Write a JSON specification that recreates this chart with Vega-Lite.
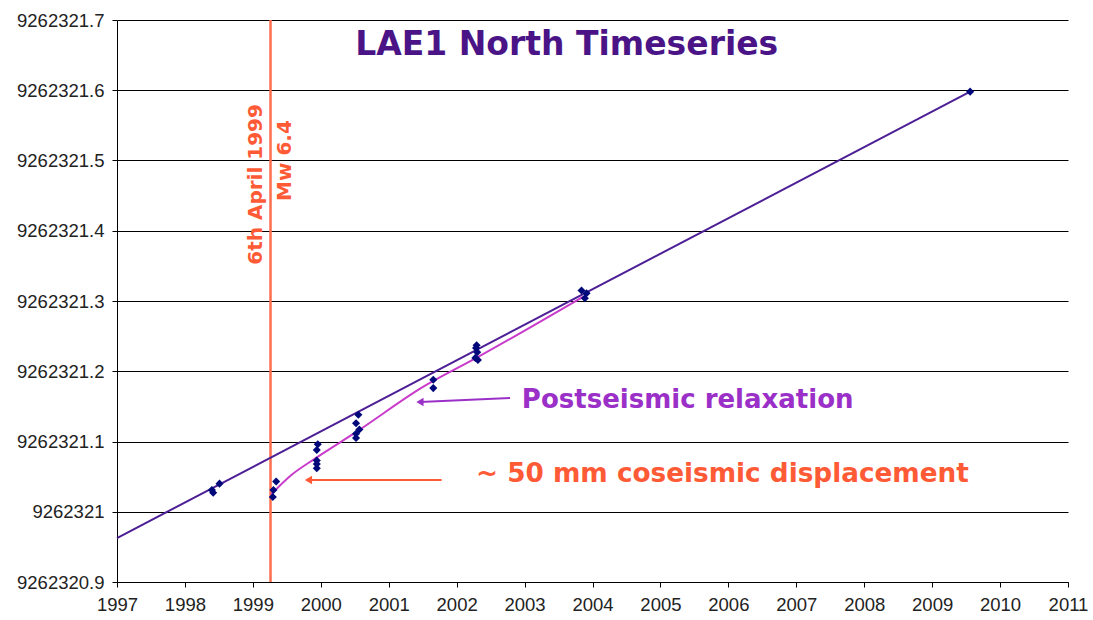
{
  "$schema": "https://vega.github.io/schema/vega-lite/v6.json",
  "width": 951,
  "height": 562,
  "autosize": {"type": "none"},
  "padding": {"left": 117, "top": 20, "right": 25, "bottom": 38},
  "background": "white",
  "config": {
    "view": {"stroke": null}
  },
  "datasets": {
    "obs": [
      {"year": 1998.397, "north": 9262321.031},
      {"year": 1998.416, "north": 9262321.027},
      {"year": 1998.509, "north": 9262321.040},
      {"year": 1999.343, "north": 9262321.043},
      {"year": 1999.303, "north": 9262321.031},
      {"year": 1999.294, "north": 9262321.021},
      {"year": 1999.956, "north": 9262321.096},
      {"year": 1999.941, "north": 9262321.088},
      {"year": 1999.941, "north": 9262321.073},
      {"year": 1999.941, "north": 9262321.068},
      {"year": 1999.941, "north": 9262321.062},
      {"year": 2000.553, "north": 9262321.138},
      {"year": 2000.519, "north": 9262321.126},
      {"year": 2000.568, "north": 9262321.117},
      {"year": 2000.519, "north": 9262321.111},
      {"year": 2000.519, "north": 9262321.105},
      {"year": 2001.656, "north": 9262321.188},
      {"year": 2001.656, "north": 9262321.176},
      {"year": 2002.294, "north": 9262321.237},
      {"year": 2002.285, "north": 9262321.233},
      {"year": 2002.303, "north": 9262321.227},
      {"year": 2002.313, "north": 9262321.216},
      {"year": 2002.275, "north": 9262321.219},
      {"year": 2003.838, "north": 9262321.315},
      {"year": 2003.912, "north": 9262321.311},
      {"year": 2003.887, "north": 9262321.304},
      {"year": 2009.559, "north": 9262321.598}
    ],
    "trend": [
      {"year": 1997.0, "north": 9262320.9626},
      {"year": 2009.56, "north": 9262321.598}
    ],
    "relax": [
      {"year": 1999.27, "north": 9262321.025},
      {"year": 1999.55, "north": 9262321.051},
      {"year": 1999.92, "north": 9262321.076},
      {"year": 2000.53, "north": 9262321.114},
      {"year": 2001.51, "north": 9262321.178},
      {"year": 2002.29, "north": 9262321.219},
      {"year": 2003.86, "north": 9262321.306}
    ],
    "quake": [{"year": 1999.26}],
    "arrows": [
      {"x1": 2002.786, "y1": 9262321.162, "x2": 2001.46, "y2": 9262321.1562, "kind": "post"},
      {"x1": 2001.779, "y1": 9262321.0452, "x2": 1999.818, "y2": 9262321.0452, "kind": "co"}
    ]
  },
  "layer": [
    {
      "data": {"name": "quake"},
      "mark": {"type": "rule", "color": "#FF6E4E", "strokeWidth": 2.5},
      "encoding": {
        "x": {"field": "year", "type": "quantitative", "scale": {"domain": [1997, 2011], "nice": false, "zero": false},
          "axis": {"values": [1997,1998,1999,2000,2001,2002,2003,2004,2005,2006,2007,2008,2009,2010,2011], "format": "d", "grid": false, "tickSize": 5, "labelPadding": 8, "labelFlush": false, "labelFont": "Liberation Sans", "labelFontSize": 18.5, "labelColor": "#222222", "domainColor": "#000000", "tickColor": "#000000", "title": null}}
      }
    },
    {
      "data": {"name": "trend"},
      "mark": {"type": "line", "color": "#4D1F96", "strokeWidth": 2},
      "encoding": {
        "x": {"field": "year", "type": "quantitative"},
        "y": {"field": "north", "type": "quantitative", "scale": {"domain": [9262320.9, 9262321.7], "nice": false, "zero": false},
          "axis": {"values": [9262320.9, 9262321.0, 9262321.1, 9262321.2, 9262321.3, 9262321.4, 9262321.5, 9262321.6, 9262321.7], "format": "~f", "grid": true, "gridColor": "#000000", "gridOpacity": 1, "gridWidth": 1, "tickSize": 5, "labelPadding": 8, "labelFlush": false, "labelFont": "Liberation Sans", "labelFontSize": 18.5, "labelColor": "#222222", "domainColor": "#000000", "tickColor": "#000000", "title": null}}
      }
    },
    {
      "data": {"name": "relax"},
      "mark": {"type": "line", "color": "#C93BCB", "strokeWidth": 2, "interpolate": "monotone"},
      "encoding": {
        "x": {"field": "year", "type": "quantitative"},
        "y": {"field": "north", "type": "quantitative"}
      }
    },
    {
      "data": {"name": "obs"},
      "mark": {"type": "point", "shape": "diamond", "filled": true, "color": "#00087A", "size": 65, "opacity": 1},
      "encoding": {
        "x": {"field": "year", "type": "quantitative"},
        "y": {"field": "north", "type": "quantitative"}
      }
    },
    {
      "data": {"name": "arrows"},
      "mark": {"type": "rule", "strokeWidth": 2},
      "encoding": {
        "x": {"field": "x1", "type": "quantitative"},
        "y": {"field": "y1", "type": "quantitative"},
        "x2": {"field": "x2"},
        "y2": {"field": "y2"},
        "color": {"field": "kind", "type": "nominal", "scale": {"domain": ["post", "co"], "range": ["#9B30C8", "#FF5A36"]}, "legend": null}
      }
    },
    {
      "data": {"name": "arrows"},
      "mark": {"type": "point", "shape": "triangle-left", "filled": true, "size": 70, "opacity": 1},
      "encoding": {
        "x": {"field": "x2", "type": "quantitative"},
        "y": {"field": "y2", "type": "quantitative"},
        "color": {"field": "kind", "type": "nominal", "scale": {"domain": ["post", "co"], "range": ["#9B30C8", "#FF5A36"]}, "legend": null}
      }
    },
    {
      "data": {"values": [{"year": 2003.62, "north": 9262321.664, "label": "LAE1 North Timeseries"}]},
      "mark": {"type": "text", "font": "DejaVu Sans", "fontWeight": "bold", "fontSize": 33, "color": "#4A1487", "align": "center", "baseline": "middle"},
      "encoding": {
        "x": {"field": "year", "type": "quantitative"},
        "y": {"field": "north", "type": "quantitative"},
        "text": {"field": "label"}
      }
    },
    {
      "data": {"values": [{"year": 2002.96, "north": 9262321.159, "label": "Postseismic relaxation"}]},
      "mark": {"type": "text", "font": "DejaVu Sans", "fontWeight": "bold", "fontSize": 26, "color": "#9B30C8", "align": "left", "baseline": "middle"},
      "encoding": {
        "x": {"field": "year", "type": "quantitative"},
        "y": {"field": "north", "type": "quantitative"},
        "text": {"field": "label"}
      }
    },
    {
      "data": {"values": [{"year": 2002.285, "north": 9262321.0537, "label": "~ 50 mm coseismic displacement"}]},
      "mark": {"type": "text", "font": "DejaVu Sans", "fontWeight": "bold", "fontSize": 26.3, "color": "#FF5A36", "align": "left", "baseline": "middle"},
      "encoding": {
        "x": {"field": "year", "type": "quantitative"},
        "y": {"field": "north", "type": "quantitative"},
        "text": {"field": "label"}
      }
    },
    {
      "data": {"values": [
        {"year": 1999.04, "north": 9262321.466, "label": "6th April 1999"},
        {"year": 1999.48, "north": 9262321.5, "label": "Mw 6.4"}
      ]},
      "mark": {"type": "text", "font": "DejaVu Sans", "fontWeight": "bold", "fontSize": 20, "color": "#FF5A36", "align": "center", "baseline": "middle", "angle": 270},
      "encoding": {
        "x": {"field": "year", "type": "quantitative"},
        "y": {"field": "north", "type": "quantitative"},
        "text": {"field": "label"}
      }
    }
  ]
}
